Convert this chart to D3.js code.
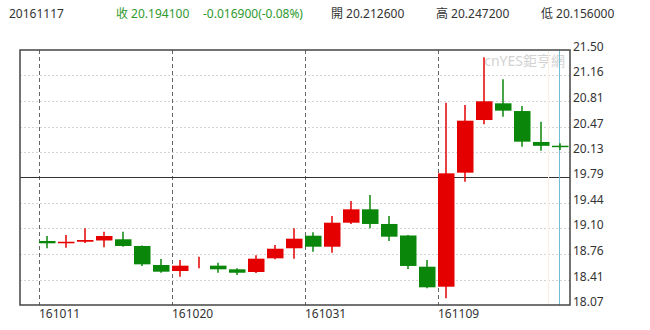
<!DOCTYPE html>
<html lang="zh-Hant">
<head>
    <meta charset="UTF-8">
    <title>20161117 K線</title>
    <style>
        body {
            margin: 0;
            background: #fff;
            font-family: 'Noto Sans', 'Noto Sans CJK TC', sans-serif;
        }
        .lbl {
            font-size: 12px;
            fill: #333;
        }
    </style>
</head>
<body>
    <div id="chart"></div>
    <script src="https://d3js.org/d3.v7.min.js"></script>
    <script>
        const width = 650;
        const height = 330;

        // daily candles, Oct 11 - Nov 17 2016
        const dates = ["161011", "161012", "161013", "161014", "161017", "161018", "161019", "161020",
            "161021", "161024", "161025", "161026", "161027", "161028", "161031", "161101", "161102",
            "161103", "161104", "161107", "161108", "161109", "161110", "161111", "161114", "161115",
            "161116", "161117"];
        const open = [18.931, 18.900, 18.921, 18.938, 18.954, 18.864, 18.608, 18.527, 18.640, 18.599,
            18.550, 18.514, 18.698, 18.833, 19.002, 18.854, 19.177, 19.357, 19.160, 19.005, 18.585,
            18.316, 19.850, 20.558, 20.783, 20.679, 20.263, 20.2126];
        const high = [18.998, 19.012, 19.102, 19.056, 19.056, 18.870, 18.689, 18.675, 18.720, 18.639,
            18.564, 18.739, 18.877, 19.102, 19.048, 19.267, 19.469, 19.550, 19.267, 19.012, 18.675,
            20.791, 20.760, 21.402, 21.106, 20.747, 20.536, 20.2472];
        const low = [18.833, 18.841, 18.904, 18.846, 18.854, 18.595, 18.504, 18.451, 18.564, 18.504,
            18.473, 18.500, 18.685, 18.693, 18.787, 18.773, 19.160, 19.102, 18.931, 18.554, 18.295,
            18.160, 19.729, 20.501, 20.603, 20.199, 20.145, 20.156];
        const close = [18.900, 18.921, 18.944, 18.998, 18.864, 18.617, 18.518, 18.599, 18.640, 18.550,
            18.504, 18.693, 18.827, 18.962, 18.854, 19.177, 19.357, 19.160, 18.989, 18.595, 18.308,
            19.841, 20.549, 20.810, 20.684, 20.267, 20.211, 20.1941];

        const yTicks = [18.07, 18.41, 18.76, 19.10, 19.44, 19.79, 20.13, 20.47, 20.81, 21.16, 21.50];
        const xTicks = ["161011", "161020", "161031", "161109"];
        const midLevel = 19.79;

        const header = [
            { text: "20161117", x: 9, color: "#333" },
            { text: "收 20.194100", x: 116, color: "#2e9a2e" },
            { text: "-0.016900(-0.08%)", x: 203, color: "#2e9a2e" },
            { text: "開 20.212600", x: 331, color: "#333" },
            { text: "高 20.247200", x: 436, color: "#333" },
            { text: "低 20.156000", x: 541, color: "#333" }
        ];

        const candles = dates.map((d, i) => ({ date: d, o: open[i], h: high[i], l: low[i], c: close[i] }));

        const plot = { left: 20, right: 570, top: 50, bottom: 305 };
        const upColor = "#e50000";
        const downColor = "#0a870a";

        const svg = d3.select("#chart")
            .append("svg")
            .attr("width", width)
            .attr("height", height);

        const x = d3.scaleBand()
            .domain(dates)
            .range([37.75, 37.75 + dates.length * 19])
            .paddingInner(0.1316)
            .paddingOuter(0.0658);

        const y = d3.scaleLinear()
            .domain([18.07, 21.50])
            .range([plot.bottom, plot.top]);

        // header line
        svg.append("g")
            .selectAll("text")
            .data(header)
            .enter().append("text")
            .attr("class", "lbl")
            .attr("x", d => d.x)
            .attr("y", 18)
            .style("fill", d => d.color)
            .text(d => d.text);

        // horizontal grid
        svg.append("g")
            .selectAll("line")
            .data(yTicks.filter(v => v !== midLevel && v !== 21.50 && v !== 18.07))
            .enter().append("line")
            .attr("x1", plot.left)
            .attr("x2", plot.right)
            .attr("y1", d => Math.round(y(d)) + 0.5)
            .attr("y2", d => Math.round(y(d)) + 0.5)
            .attr("stroke", "#d4d4d4")
            .attr("stroke-dasharray", "2,2");

        // watermark
        svg.append("text")
            .attr("x", 565)
            .attr("y", 66)
            .attr("text-anchor", "end")
            .style("font-size", "14px")
            .style("fill", "#d2d2d2")
            .text("cnYES鉅亨網");

        // date separators
        svg.append("g")
            .selectAll("line")
            .data(xTicks)
            .enter().append("line")
            .attr("x1", d => Math.round(x(d)) + 0.5)
            .attr("x2", d => Math.round(x(d)) + 0.5)
            .attr("y1", plot.top)
            .attr("y2", plot.bottom)
            .attr("stroke", "#666")
            .attr("stroke-dasharray", "4,3");

        // mid line
        svg.append("line")
            .attr("x1", plot.left)
            .attr("x2", plot.right)
            .attr("y1", Math.round(y(midLevel)) + 0.5)
            .attr("y2", Math.round(y(midLevel)) + 0.5)
            .attr("stroke", "#333");

        // cursor lines at last candle
        const last = dates[dates.length - 1];
        svg.append("line")
            .attr("x1", Math.round(x(last)) - 3.5)
            .attr("x2", Math.round(x(last)) - 3.5)
            .attr("y1", plot.top)
            .attr("y2", plot.bottom)
            .attr("stroke", "#fbeedd");
        svg.append("line")
            .attr("x1", Math.round(x(last) + x.bandwidth() / 2) - 0.5)
            .attr("x2", Math.round(x(last) + x.bandwidth() / 2) - 0.5)
            .attr("y1", plot.top)
            .attr("y2", plot.bottom)
            .attr("stroke", "#6fbfd6");

        // candles
        const g = svg.append("g");
        const col = d => d.c >= d.o ? upColor : downColor;

        g.selectAll("line.wick")
            .data(candles)
            .enter().append("line")
            .attr("class", "wick")
            .attr("x1", d => Math.round(x(d.date) + x.bandwidth() / 2))
            .attr("x2", d => Math.round(x(d.date) + x.bandwidth() / 2))
            .attr("y1", d => y(d.h))
            .attr("y2", d => y(d.l))
            .attr("stroke", col)
            .attr("stroke-width", 1.5);

        g.selectAll("rect.body")
            .data(candles)
            .enter().append("rect")
            .attr("class", "body")
            .attr("x", d => x(d.date))
            .attr("width", x.bandwidth())
            .attr("y", d => y(Math.max(d.o, d.c)))
            .attr("height", d => {
                const h = Math.abs(y(d.o) - y(d.c));
                return h === 0 ? 0 : Math.max(1.5, h);
            })
            .attr("fill", col);

        // frame
        svg.append("rect")
            .attr("x", plot.left)
            .attr("y", plot.top)
            .attr("width", plot.right - plot.left)
            .attr("height", plot.bottom - plot.top)
            .attr("fill", "none")
            .attr("stroke", "#444")
            .attr("stroke-width", 1.5);

        // price labels (baseline on the grid line)
        svg.append("g")
            .selectAll("text")
            .data(yTicks)
            .enter().append("text")
            .attr("class", "lbl")
            .attr("x", 573)
            .attr("y", d => y(d) + 1)
            .text(d => d.toFixed(2));

        // date labels
        svg.append("g")
            .selectAll("text")
            .data(xTicks)
            .enter().append("text")
            .attr("class", "lbl")
            .attr("x", d => x(d))
            .attr("y", 318)
            .text(d => d);
    </script>
</body>
</html>
